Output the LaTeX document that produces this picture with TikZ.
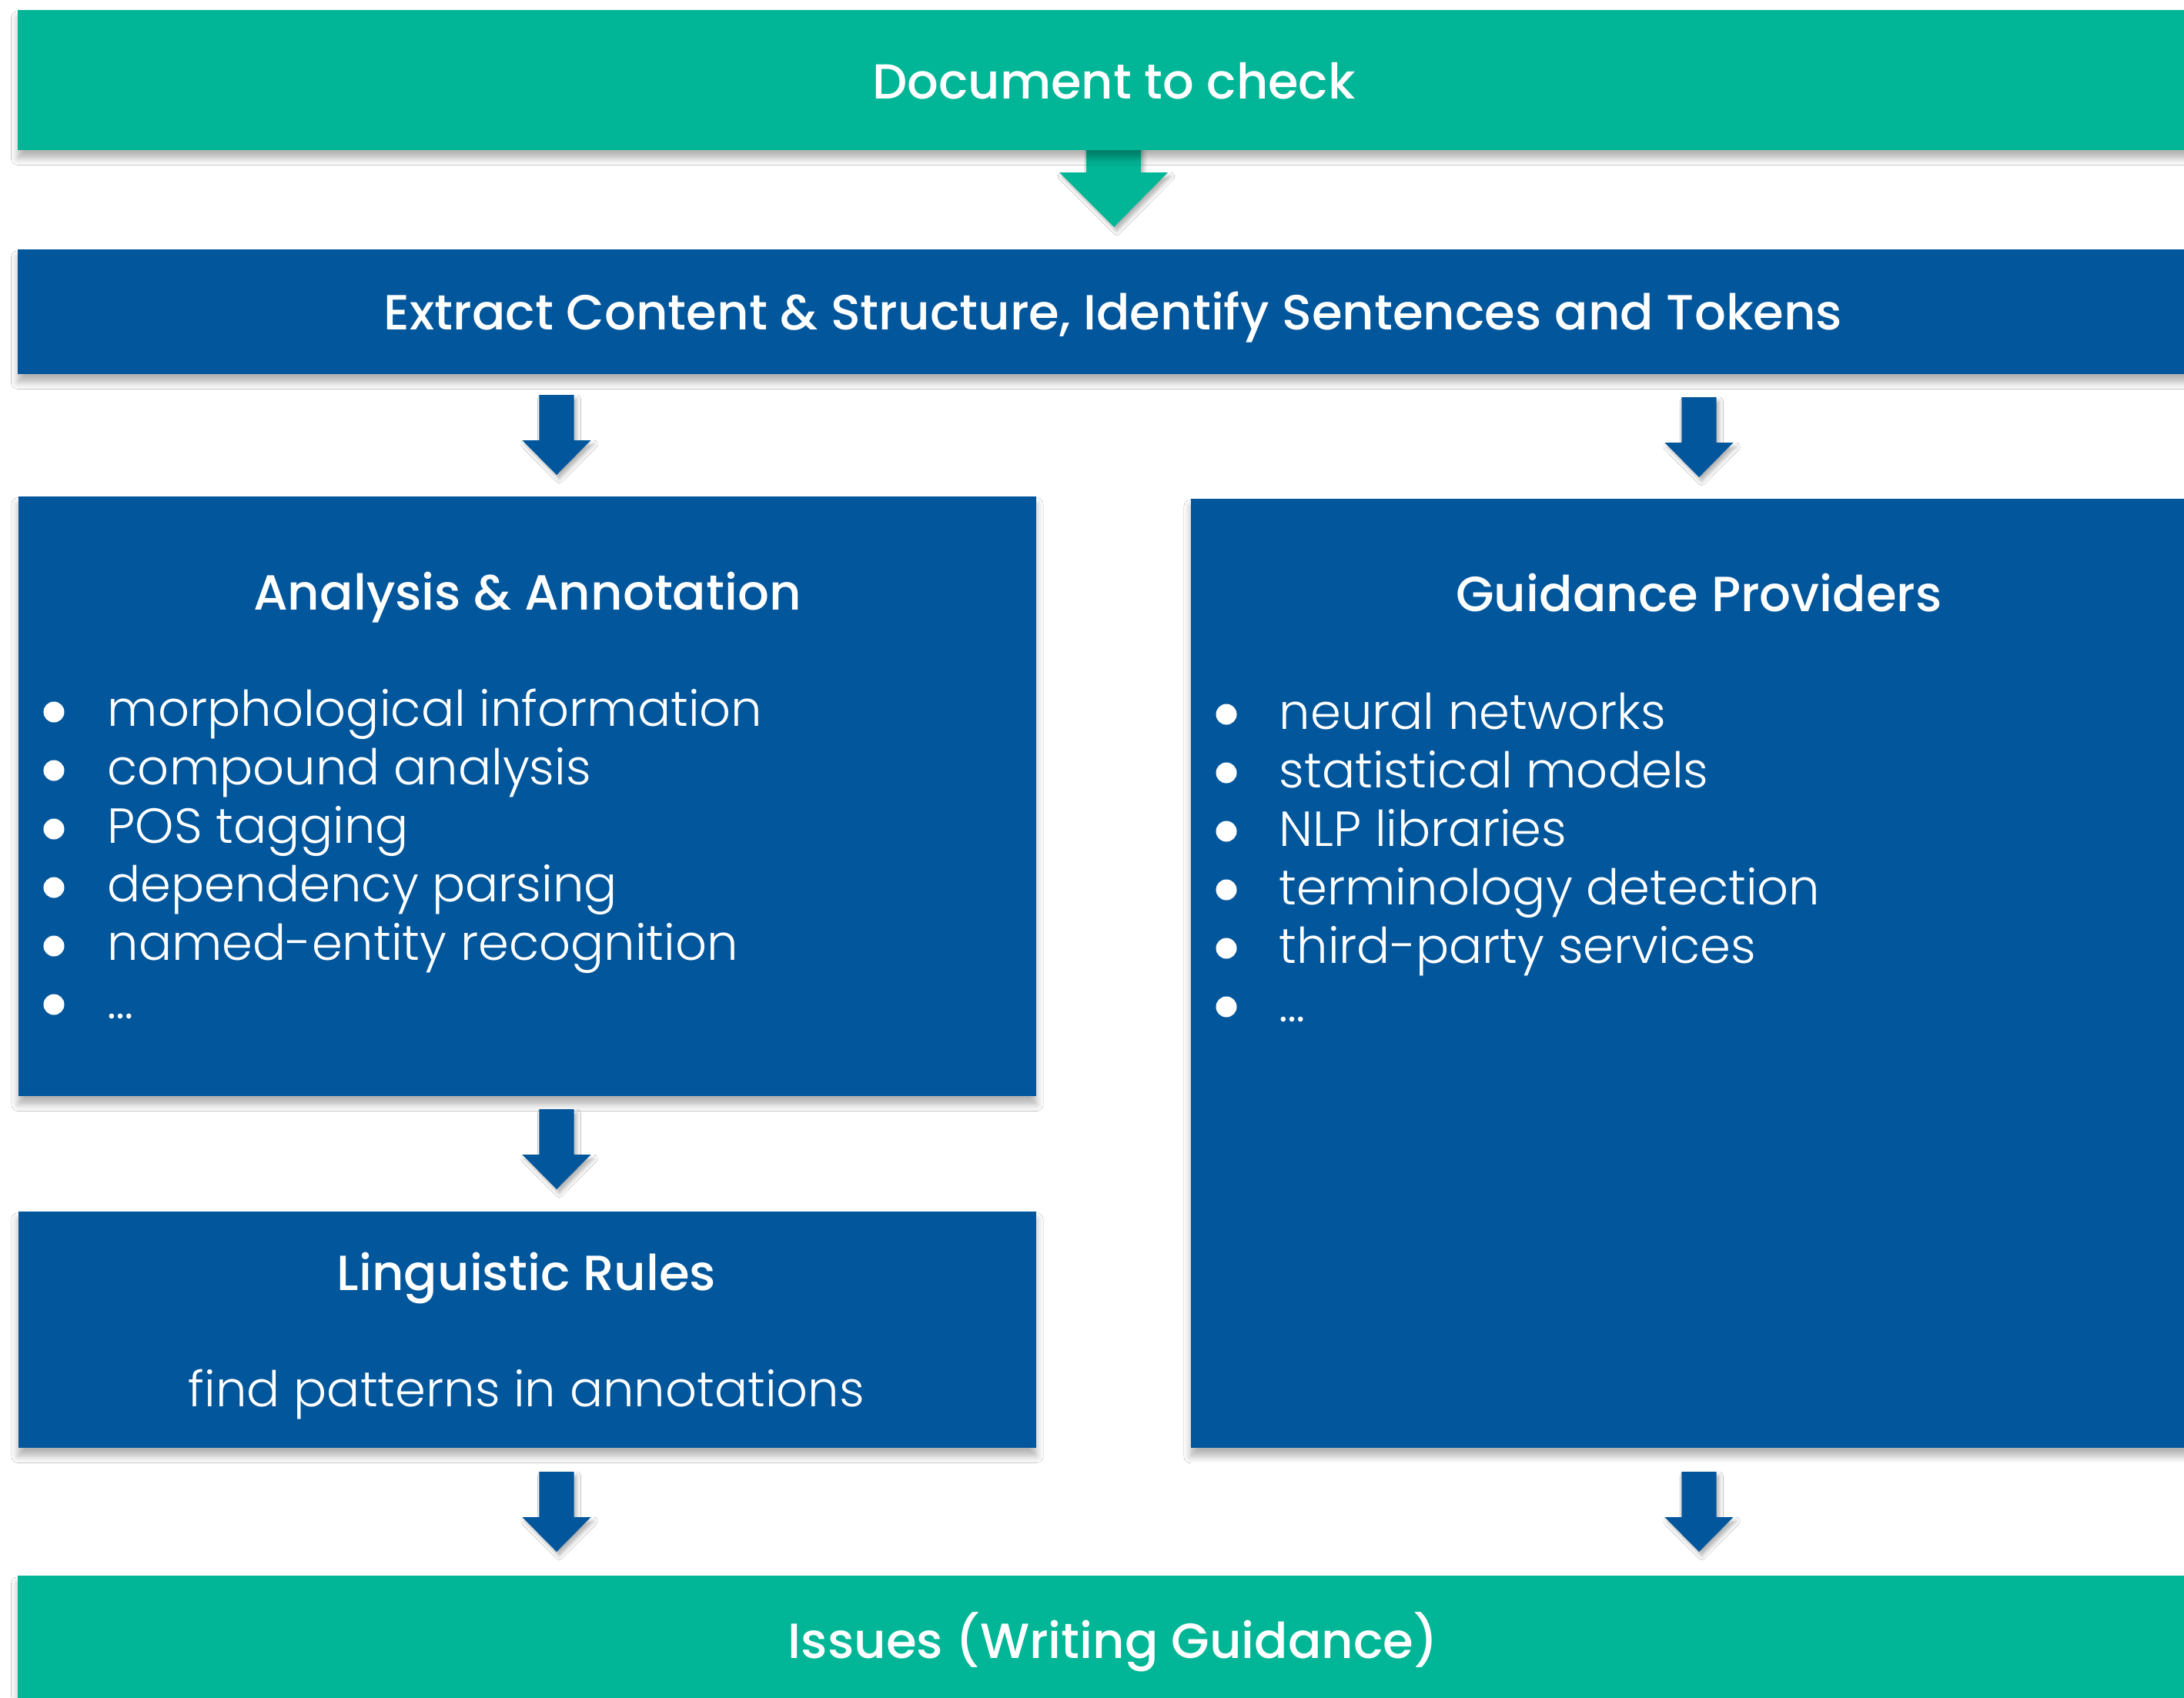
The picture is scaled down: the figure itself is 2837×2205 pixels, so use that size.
\documentclass[tikz,border=0pt]{standalone}
\usepackage{fontspec}
\setmainfont{Poppins}
\newfontfamily\popmed{Poppins Medium}
\newfontfamily\poplight{Poppins Light}
\usetikzlibrary{shadows.blur}
\definecolor{tgreen}{HTML}{01B696}
\definecolor{tblue}{HTML}{02569B}
\tikzset{
  boxshadow/.style={blur shadow={shadow xshift=0pt, shadow yshift=-3pt, shadow blur radius=2.5pt, shadow blur steps=6, shadow opacity=30}},
  arrshadow/.style={blur shadow={shadow xshift=1pt, shadow yshift=-1.5pt, shadow blur radius=1.5pt, shadow blur steps=4, shadow opacity=30}},
  panel/.style={inner sep=0pt, outer sep=0pt, boxshadow},
  greenbox/.style={panel, fill=tgreen},
  bluebox/.style={panel, fill=tblue},
  bigtitle/.style={text=white, inner sep=0pt, anchor=base, font=\popmed\fontsize{18.15}{22}\selectfont},
  title/.style={text=white, inner sep=0pt, anchor=base, font=\popmed\fontsize{18.25}{22}\selectfont},
  item/.style={text=white, inner sep=0pt, anchor=base west, font=\poplight\fontsize{18.2}{22}\selectfont},
  dot/.style={circle, fill=white, minimum size=0.27cm, inner sep=0pt},
  blockarrow/.style={fill=tblue, arrshadow},
  greenarrow/.style={fill=tgreen, arrshadow}
}
\newcommand\downarrowat[4]{% #1 style, #2 x, #3 stem top, #4 tip
  \pgfmathsetmacro\ahead{#4-45}
  \fill[#1] (#2-22.7,#3) -- (#2+22.7,#3) -- (#2+22.7,\ahead) -- (#2+44.5,\ahead)
    -- (#2,#4) -- (#2-44.5,\ahead) -- (#2-22.7,\ahead) -- cycle;
}
\begin{document}
\begin{tikzpicture}[x=0.01cm,y=-0.01cm]
\useasboundingbox (0,0) rectangle (2837,2205);
\fill[white] (0,0) rectangle (2837,2205);

% big green arrow (behind top bar)
\fill[greenarrow] (1411,150) -- (1482,150) -- (1482,224) -- (1517,224) -- (1447,295)
  -- (1376,224) -- (1411,224) -- cycle;

% panels
\node[greenbox, minimum width=28.46cm, minimum height=1.82cm] (doc) at (1447,104) {};
\node[bluebox, minimum width=28.46cm, minimum height=1.62cm] (extract) at (1447,405) {};
\node[bluebox, minimum width=13.22cm, minimum height=7.79cm] (analysis) at (685,1034.5) {};
\node[bluebox, minimum width=13.20cm, minimum height=12.33cm] (guidance) at (2207,1264.5) {};
\node[bluebox, minimum width=13.22cm, minimum height=3.07cm] (ling) at (685,1727.5) {};
\node[greenbox, minimum width=28.46cm, minimum height=2.00cm] (issues) at (1447,2147) {};

% block arrows
\downarrowat{blockarrow}{723}{513}{617}
\downarrowat{blockarrow}{2207}{516}{620}
\downarrowat{blockarrow}{723}{1441}{1545}
\downarrowat{blockarrow}{723}{1912}{2016}
\downarrowat{blockarrow}{2207}{1912}{2016}

% titles
\node[bigtitle] (doct) at (1447,128) {Document to check};
\node[title] (extractt) at (1446,428) {Extract Content \& Structure, Identify Sentences and Tokens};
\node[title] (analysist) at (685,792) {Analysis \& Annotation};
\node[title] (guidancet) at (2207,794) {Guidance Providers};
\node[title] (lingt) at (684,1676) {Linguistic Rules};
\node[item, anchor=base] (lingsub) at (684,1827) {find patterns in annotations};
\node[title] (issuest) at (1446,2154) {Issues (Writing Guidance)};

% left list
\foreach \t [count=\i from 0] in {morphological information, compound analysis, POS tagging, dependency parsing, named-entity recognition}{
  \node[dot] (ld\i) at (70,925+76*\i) {};
  \node[item] (li\i) at (139,943+76*\i) {\t};
}
\node[dot] (ld5) at (70,1305) {};
\node[item] (li5) at (139,1323) {\ldots};
% right list
\foreach \t [count=\i from 0] in {neural networks, statistical models, NLP libraries, terminology detection, third-party services}{
  \node[dot] (rd\i) at (1593,928+76*\i) {};
  \node[item] (ri\i) at (1661,947+76*\i) {\t};
}
\node[dot] (rd5) at (1593,1308) {};
\node[item] (ri5) at (1661,1327) {\ldots};
\end{tikzpicture}
\end{document}
